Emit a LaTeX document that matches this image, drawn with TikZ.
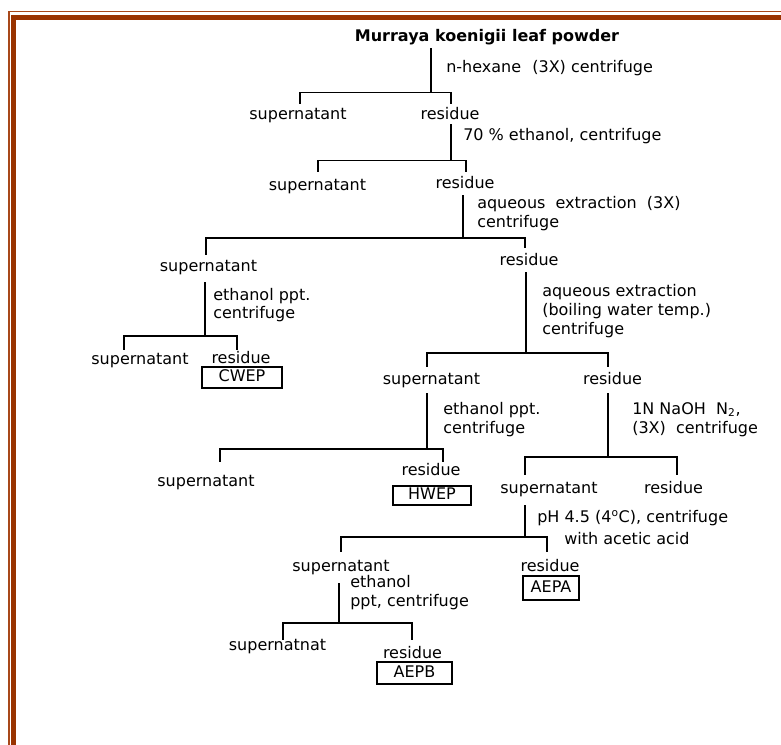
\documentclass[tikz,border=0pt]{standalone}
\usepackage{fontspec}
\setmainfont{DejaVu Sans}
\definecolor{framec}{HTML}{993300}
\definecolor{framethin}{HTML}{A8481A}
\begin{document}
\begin{tikzpicture}[x=0.75pt,y=-0.75pt,
  lbl/.style={inner sep=0pt, text height=9.15pt, text depth=2.55pt, font=\fontsize{12}{14}\selectfont},
  note/.style={lbl, anchor=west},
  boxed/.style={lbl, draw, line width=1pt},
  conn/.style={line width=1pt, line cap=rect}]
\useasboundingbox (0,0) rectangle (781,745);
% frame
\fill[framethin] (8,11) rectangle (10,745);
\fill[framethin] (8,11) rectangle (781,12.4);
\fill[framec] (11.3,14.7) rectangle (16,745);
\fill[framec] (11.3,14.7) rectangle (781,20);

% nodes
\node[lbl, font=\fontsize{12}{14}\selectfont\bfseries] (title) at (487,37) {Murraya koenigii leaf powder};
\node[note] (n1) at (446,68) {n-hexane\hspace{0.7em}(3X) centrifuge};
\node[lbl] (S1) at (298,115) {supernatant};
\node[lbl] (R1) at (450,115) {residue};
\node[note] (n2) at (463,136) {70 \% ethanol, centrifuge};
\node[lbl] (S2) at (317.5,186) {supernatant};
\node[lbl] (R2) at (465,184) {residue};
\node[note] (n3a) at (477,204) {aqueous\ \ extraction\ \ (3X)};
\node[note] (n3b) at (477,223) {centrifuge};
\node[lbl] (S3) at (208.5,267) {supernatant};
\node[lbl] (R3) at (529,261) {residue};
\node[note] (n4a) at (213,296) {ethanol ppt.};
\node[note] (n4b) at (213,314) {centrifuge};
\node[lbl] (S4) at (140,360) {supernatant};
\node[lbl] (R4) at (241,359) {residue};
\node[boxed, minimum width=60pt, minimum height=15.75pt] (CWEP) at (242,377.5) {CWEP};
\node[note] (n5a) at (542,292) {aqueous extraction};
\node[note] (n5b) at (542,311) {(boiling water temp.)};
\node[note] (n5c) at (542,330) {centrifuge};
\node[lbl] (S5) at (431.5,380) {supernatant};
\node[lbl] (R5) at (612.5,380) {residue};
\node[note] (n6a) at (443,410) {ethanol ppt.};
\node[note] (n6b) at (443,429) {centrifuge};
\node[lbl] (S6) at (206,482) {supernatant};
\node[lbl] (R6) at (431,471) {residue};
\node[boxed, minimum width=58.5pt, minimum height=14.25pt] (HWEP) at (432,495.5) {HWEP};
\node[note] (n7a) at (632,410) {1N NaOH\ \ N\textsubscript{2},};
\node[note] (n7b) at (632,429) {(3X)\ \ centrifuge};
\node[lbl] (S7) at (549,489) {supernatant};
\node[lbl] (R7) at (673.5,489) {residue};
\node[note] (n8a) at (537,518) {pH 4.5 (4\textsuperscript{o}C), centrifuge};
\node[note] (n8b) at (564,540) {with acetic acid};
\node[lbl] (S8) at (341,567) {supernatant};
\node[lbl] (R8) at (550,567) {residue};
\node[boxed, minimum width=42pt, minimum height=18pt] (AEPA) at (551,588) {AEPA};
\node[note] (n9a) at (350,583) {ethanol};
\node[note] (n9b) at (350,602) {ppt, centrifuge};
\node[lbl] (S9) at (277.5,646) {supernatnat};
\node[lbl] (R9) at (412.5,654) {residue};
\node[boxed, minimum width=56.25pt, minimum height=16.5pt] (AEPB) at (414.5,673) {AEPB};

% junctions and bar ends
\coordinate (j1) at (431,92.5); \coordinate (a1) at (300,92.5); \coordinate (b1) at (451,92.5);
\coordinate (j2) at (451,160.5); \coordinate (a2) at (318,160.5); \coordinate (b2) at (466,160.5);
\coordinate (j3) at (463,238); \coordinate (a3) at (206,238); \coordinate (b3) at (525,238);
\coordinate (j4) at (205,336); \coordinate (a4) at (124,336); \coordinate (b4) at (237,336);
\coordinate (j5) at (526,353); \coordinate (a5) at (427,353); \coordinate (b5) at (608,353);
\coordinate (j6) at (427,449); \coordinate (a6) at (220,449); \coordinate (b6) at (443,449);
\coordinate (j7) at (608,457); \coordinate (a7) at (525,457); \coordinate (b7) at (677,457);
\coordinate (j8) at (525,537); \coordinate (a8) at (341,537); \coordinate (b8) at (547,537);
\coordinate (j9) at (339,623); \coordinate (a9) at (283,623); \coordinate (b9) at (412,623);

% connectors
\draw[conn, shorten <=2.4pt] (title.south -| j1) -- (j1);
\draw[conn, shorten <=2.4pt, shorten >=2.4pt] (S1.north -| a1) -- (a1) -- (b1) -- (R1.north -| b1);
\draw[conn, shorten <=0.9pt] (R1.south -| j2) -- (j2);
\draw[conn, shorten <=4.65pt, shorten >=3.15pt] (S2.north -| a2) -- (a2) -- (b2) -- (R2.north -| b2);
\draw[conn, shorten <=2.4pt] (R2.south -| j3) -- (j3);
\draw[conn, shorten <=3.15pt, shorten >=3.9pt] (S3.north -| a3) -- (a3) -- (b3) -- (R3.north -| b3);
\draw[conn, shorten <=5.4pt] (S3.south -| j4) -- (j4);
\draw[conn, shorten <=1.65pt, shorten >=0.9pt] (S4.north -| a4) -- (a4) -- (b4) -- (R4.north -| b4);
\draw[conn, shorten <=2.4pt] (R3.south -| j5) -- (j5);
\draw[conn, shorten <=3.9pt, shorten >=3.9pt] (S5.north -| a5) -- (a5) -- (b5) -- (R5.north -| b5);
\draw[conn, shorten <=3.9pt] (S5.south -| j6) -- (j6);
\draw[conn, shorten <=9.15pt, shorten >=0.9pt] (S6.north -| a6) -- (a6) -- (b6) -- (R6.north -| b6);
\draw[conn, shorten <=3.9pt] (R5.south -| j7) -- (j7);
\draw[conn, shorten <=4.65pt, shorten >=4.65pt] (S7.north -| a7) -- (a7) -- (b7) -- (R7.north -| b7);
\draw[conn, shorten <=6.15pt] (S7.south -| j8) -- (j8);
\draw[conn, shorten <=5.4pt, shorten >=5.4pt] (S8.north -| a8) -- (a8) -- (b8) -- (R8.north -| b8);
\draw[conn, shorten <=6.15pt] (S8.south -| j9) -- (j9);
\draw[conn, shorten <=-1.35pt, shorten >=4.65pt] (S9.north -| a9) -- (a9) -- (b9) -- (R9.north -| b9);
\end{tikzpicture}
\end{document}
